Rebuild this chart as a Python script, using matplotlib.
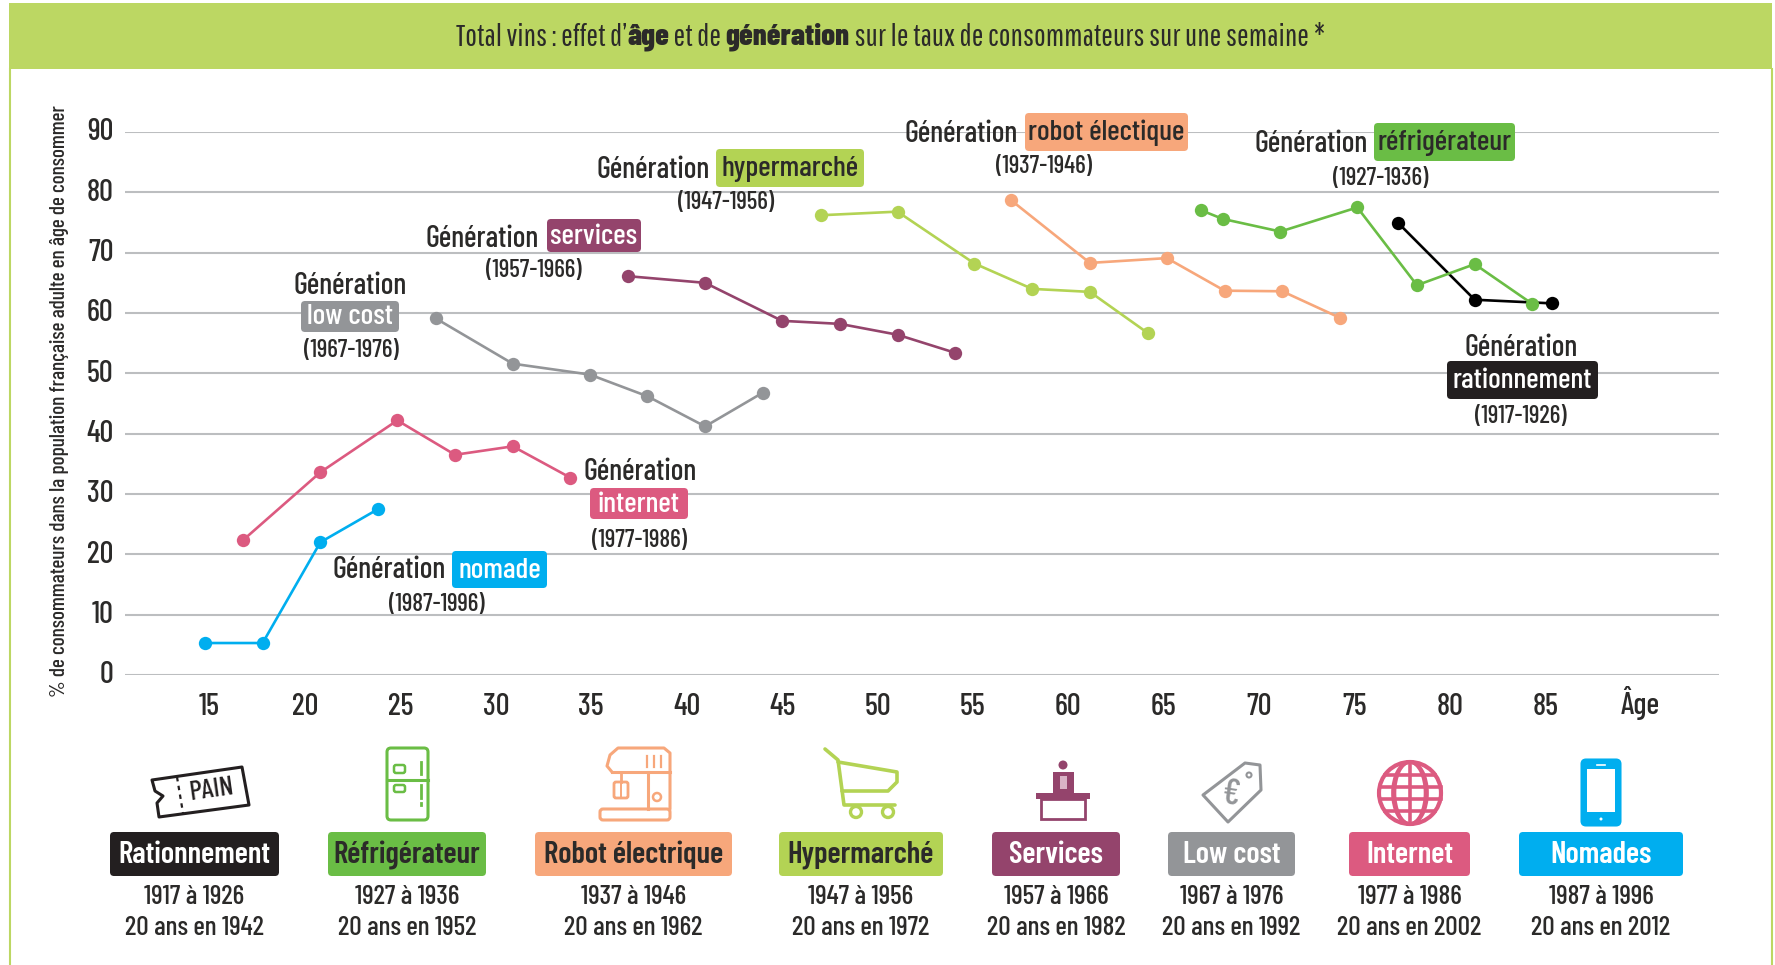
import matplotlib
matplotlib.use('Agg')
import matplotlib.pyplot as plt
from matplotlib import font_manager as fm
from matplotlib.patches import FancyBboxPatch, Circle, Ellipse, Polygon, Rectangle
from matplotlib.transforms import ScaledTranslation

# police etroite si elle existe, sinon on reduit les tailles
installed = {f.name for f in fm.fontManager.ttflist}
NARROW = 'Barlow Condensed' in installed
plt.rcParams['font.family'] = ['Barlow Condensed', 'Liberation Sans', 'DejaVu Sans'] if NARROW else ['Liberation Sans', 'DejaVu Sans']
plt.rcParams['font.weight'] = 500 if NARROW else 400
SIZE = 1.0 if NARROW else 0.72
TITLE_NARROW = 'Pathway Gothic One' in installed

LIGHT_GREEN = '#bcd763'
GREEN = '#6abd45'
ORANGE = '#f7a77b'
PINK = '#dc5a80'
BLUE = '#00aeef'
GREY = '#939598'
PLUM = '#94446c'
BLACK = '#231f20'
HYPER = '#b3d354'
TEXT = '#2b2a29'

# donnees
age_ticks = [15, 20, 25, 30, 35, 40, 45, 50, 55, 60, 65, 70, 75, 80, 85]
pct_ticks = [0, 10, 20, 30, 40, 50, 60, 70, 80, 90]

nomade_age = [15, 18, 21, 24]
nomade_val = [5.3, 5.3, 22.0, 27.5]
internet_age = [17, 21, 25, 28, 31, 34]
internet_val = [22.4, 33.6, 42.2, 36.5, 37.9, 32.7]
lowcost_age = [27, 31, 35, 38, 41, 44]
lowcost_val = [59.1, 51.6, 49.8, 46.2, 41.2, 46.8]
services_age = [37, 41, 45, 48, 51, 54]
services_val = [66.1, 65.0, 58.7, 58.2, 56.4, 53.4]
hyper_age = [47, 51, 55, 58, 61, 64]
hyper_val = [76.2, 76.8, 68.2, 64.0, 63.5, 56.7]
robot_age = [56.9, 61, 65, 68, 71, 74]
robot_val = [78.7, 68.3, 69.1, 63.7, 63.6, 59.2]
frigo_age = [66.8, 67.9, 70.9, 74.9, 78, 81, 84]
frigo_val = [77.0, 75.6, 73.5, 77.5, 64.6, 68.1, 61.5]
ration_age = [77, 81, 85]
ration_val = [75.0, 62.2, 61.6]

legend_names = ['Rationnement', 'Réfrigérateur', 'Robot électrique', 'Hypermarché',
                'Services', 'Low cost', 'Internet', 'Nomades']
legend_years = ['1917 à 1926', '1927 à 1936', '1937 à 1946', '1947 à 1956',
                '1957 à 1966', '1967 à 1976', '1977 à 1986', '1987 à 1996']
legend_twenty = ['20 ans en 1942', '20 ans en 1952', '20 ans en 1962', '20 ans en 1972',
                 '20 ans en 1982', '20 ans en 1992', '20 ans en 2002', '20 ans en 2012']
legend_colors = [BLACK, GREEN, ORANGE, HYPER, PLUM, GREY, PINK, BLUE]
legend_text_colors = ['white', TEXT, TEXT, TEXT, 'white', 'white', 'white', 'white']
legend_boxes = [(110, 279), (328, 486), (535, 732), (779, 943),
                (992, 1120), (1168, 1295), (1349, 1470), (1519, 1683)]


def pill(ax, x0, x1, y0, y1, color):
    ax.add_patch(FancyBboxPatch((x0 + 3, y0 + 3), x1 - x0 - 6, y1 - y0 - 6,
                                boxstyle='round,pad=3,rounding_size=4',
                                fc=color, ec='none', zorder=3))


def label_gen(ax, gx, gy, box, name, color, tcolor, period, px, py):
    ax.text(gx, gy + 2, 'Génération', ha='center', va='center', fontsize=21.6 * SIZE, color=TEXT, zorder=4)
    pill(ax, box[0], box[1], box[2], box[3], color)
    ax.text((box[0] + box[1]) / 2, (box[2] + box[3]) / 2 + 1, name, ha='center', va='center',
            fontsize=21.4 * SIZE, color=tcolor, zorder=4)
    ax.text(px, py + 1, period, ha='center', va='center', fontsize=18 * SIZE, color=TEXT, zorder=4)


def draw_title(fig, ax):
    runs = [('Total vins : effet d’', False), ('âge', True), (' et de ', False),
            ('génération', True), (' sur le taux de consommateurs sur une semaine *', False)]
    renderer = fig.canvas.get_renderer()
    x = 456
    for s, strong in runs:
        s = s.replace(' ', '\u00a0')
        if strong:
            t = ax.text(x, 37, s, ha='left', va='center', fontsize=22.2 * SIZE, fontweight=800,
                        color=TEXT, zorder=4)
        elif TITLE_NARROW:
            t = ax.text(x, 37, s, ha='left', va='center', fontsize=22.4, color=TEXT, zorder=4,
                        family=['Pathway Gothic One', 'DejaVu Sans'])
        else:
            t = ax.text(x, 37, s, ha='left', va='center', fontsize=20 * SIZE, color=TEXT, zorder=4)
        x = t.get_window_extent(renderer).x1


def stroke(ax, pts, color, lw=2.2, closed=False):
    ax.add_patch(Polygon(pts, closed=closed, fc='none', ec=color, lw=lw, joinstyle='round', capstyle='round'))


def round_box(ax, x0, y0, x1, y1, color, r=4, lw=2.2, fill='none'):
    ax.add_patch(FancyBboxPatch((x0 + r, y0 + r), x1 - x0 - 2 * r, y1 - y0 - 2 * r,
                                boxstyle=f'round,pad={r},rounding_size={r}', fc=fill, ec=color, lw=lw))


def draw_icons(ax):
    # ticket
    stroke(ax, [(152, 780), (242, 767), (249, 805), (159, 817), (157, 803), (163, 796), (155, 791)],
           BLACK, closed=True)
    ax.plot([177, 183], [777, 813], color=BLACK, lw=1.6, ls=(0, (2, 2)))
    ax.text(211, 790, 'PAIN', rotation=8, ha='center', va='center', fontsize=20 * SIZE, color=BLACK)

    # frigo
    round_box(ax, 387, 748, 428, 820, GREEN)
    ax.plot([387, 428], [780, 780], color=GREEN, lw=2.2)
    round_box(ax, 394, 765, 405, 773, GREEN, r=2, lw=1.8)
    round_box(ax, 394, 785, 405, 792, GREEN, r=2, lw=1.8)
    ax.plot([421, 421], [762, 774], color=GREEN, lw=2)
    ax.plot([421, 421], [785, 798], color=GREEN, lw=2)
    ax.plot([421, 421], [803, 805], color=GREEN, lw=2)

    # robot
    round_box(ax, 600, 809, 670, 820, ORANGE, r=3)
    stroke(ax, [(612, 772), (607, 766), (610, 755), (618, 748), (664, 748), (670, 753),
                (670, 809)], ORANGE)
    ax.plot([612, 670], [772, 772], color=ORANGE, lw=2.2)
    ax.plot([648, 648], [772, 809], color=ORANGE, lw=2.2)
    for x in [647, 654, 661]:
        ax.plot([x, x], [756, 767], color=ORANGE, lw=1.6)
    ax.plot([621, 621], [772, 782], color=ORANGE, lw=2)
    round_box(ax, 614, 782, 628, 798, ORANGE, r=2, lw=2)
    ax.plot([621, 621], [782, 798], color=ORANGE, lw=1.4)
    ax.add_patch(Circle((657, 797), 4, fc='none', ec=ORANGE, lw=1.8))

    # caddie
    stroke(ax, [(825, 749), (838, 760), (844, 805), (895, 805)], HYPER, lw=2.6)
    stroke(ax, [(838, 762), (897, 772), (897, 782), (888, 791), (842, 791)], HYPER, lw=2.6)
    ax.add_patch(Circle((856, 812), 5.5, fc='white', ec=HYPER, lw=2.4))
    ax.add_patch(Circle((888, 812), 5.5, fc='white', ec=HYPER, lw=2.4))

    # bureau
    ax.add_patch(Circle((1063, 765), 4.5, fc=PLUM, ec='none'))
    ax.add_patch(Rectangle((1053, 772), 21, 22, fc=PLUM, ec='none'))
    ax.add_patch(Rectangle((1060, 776), 7, 13, fc='#d9b3c6', ec='none'))
    ax.add_patch(Rectangle((1036, 793), 54, 6, fc=PLUM, ec='none'))
    ax.add_patch(Rectangle((1041, 799), 44, 20, fc='none', ec=PLUM, lw=2))

    # etiquette
    stroke(ax, [(1228, 822), (1203, 795), (1245, 763), (1260, 765), (1261, 790)], GREY, closed=True)
    ax.add_patch(Circle((1249, 775), 2.5, fc='none', ec=GREY, lw=1.5))
    ax.text(1230, 795, '€', rotation=-8, ha='center', va='center', fontsize=26 * SIZE, color=GREY)

    # globe
    cx, cy, r = 1410, 793, 31
    ax.add_patch(Circle((cx, cy), r, fc='white', ec=PINK, lw=3))
    for w in [r * 1.0, r * 2.0 * 0.55]:
        ax.add_patch(Ellipse((cx, cy), w, 2 * r, fc='none', ec=PINK, lw=2.6))
    ax.plot([cx, cx], [cy - r, cy + r], color=PINK, lw=2.6)
    for dy, half in [(-18, 25), (-6, 30.5), (6, 30.5), (18, 25)]:
        ax.plot([cx - half, cx + half], [cy + dy, cy + dy], color=PINK, lw=2.6)

    # telephone
    round_box(ax, 1582, 760, 1620, 825, BLUE, fill=BLUE)
    ax.add_patch(Rectangle((1587, 769), 28, 43, fc='white', ec='none'))
    ax.plot([1597, 1605], [764.5, 764.5], color='white', lw=1.2)
    ax.add_patch(Circle((1601, 819), 1.5, fc='white', ec='none'))


def main():
    fig = plt.figure(figsize=(17.75, 9.65), dpi=100, facecolor='white')

    # graphique principal, gradue par la librairie
    left, right, top, bottom = 124.5, 1719, 132, 675
    ax = fig.add_axes([left / 1775, 1 - bottom / 965, (right - left) / 1775, (bottom - top) / 965],
                      zorder=1)
    ax.patch.set_alpha(0)
    ax.set_ylim(0, 90)
    ax.set_xlim(10.82, 93.7)
    for s in ax.spines.values():
        s.set_visible(False)
    ax.set_yticks(pct_ticks)
    # les etiquettes de l'original ne tombent pas tout a fait sous les ages
    ax.set_xticks([15.24 + (a - 15) * 0.992 for a in age_ticks], labels=age_ticks)
    ax.tick_params(axis='both', length=0, labelsize=22 * SIZE, labelcolor=TEXT)
    ax.tick_params(axis='x', pad=12.9)
    ax.tick_params(axis='y', pad=8)
    up = ScaledTranslation(0, 2 / 72, fig.dpi_scale_trans)
    for lab in ax.get_yticklabels():
        lab.set_transform(lab.get_transform() + up)
    ax.grid(axis='y', color='#bcbec0', lw=1.5)
    ax.set_axisbelow(True)

    series = [(nomade_age, nomade_val, BLUE), (internet_age, internet_val, PINK),
              (lowcost_age, lowcost_val, GREY), (services_age, services_val, PLUM),
              (hyper_age, hyper_val, HYPER), (robot_age, robot_val, ORANGE),
              (ration_age, ration_val, 'black'), (frigo_age, frigo_val, GREEN)]
    for xs, ys, col in series:
        ax.plot(xs, ys, color=col, lw=1.9, marker='o', ms=9.6, mec='none', clip_on=False)

    # habillage en pixels
    deco = fig.add_axes([0, 0, 1, 1], zorder=2)
    deco.set_xlim(0, 1775)
    deco.set_ylim(965, 0)
    deco.axis('off')
    deco.patch.set_alpha(0)

    deco.add_patch(Rectangle((9, 3), 1763, 66, fc=LIGHT_GREEN, ec='none'))
    deco.plot([10, 10], [69, 965], color=LIGHT_GREEN, lw=1.5)
    deco.plot([1772, 1772], [69, 965], color=LIGHT_GREEN, lw=1.5)
    draw_title(fig, deco)

    deco.text(60, 401, '% de consommateurs dans la population française adulte en âge de consommer',
              rotation=90, ha='center', va='center', fontsize=15.3 * SIZE, color=TEXT)
    deco.text(1640, 703, 'Âge', ha='center', va='center', fontsize=22 * SIZE, color=TEXT)

    label_gen(deco, 653, 168, (716, 864, 149, 187), 'hypermarché', HYPER, TEXT, '(1947-1956)', 726, 202)
    label_gen(deco, 482, 237, (547, 641, 219, 252), 'services', PLUM, 'white', '(1957-1966)', 534, 270)
    label_gen(deco, 350, 284, (301, 399, 301, 332), 'low cost', GREY, 'white', '(1967-1976)', 351, 350)
    label_gen(deco, 961, 132, (1025, 1188, 113, 151), 'robot électique', ORANGE, TEXT, '(1937-1946)', 1044, 166)
    label_gen(deco, 1311, 142, (1374, 1515, 123, 161), 'réfrigérateur', GREEN, TEXT, '(1927-1936)', 1381, 178)
    label_gen(deco, 1521, 346, (1447, 1598, 361, 399), 'rationnement', BLACK, 'white', '(1917-1926)', 1521, 415)
    label_gen(deco, 640, 470, (590, 688, 488, 519), 'internet', PINK, 'white', '(1977-1986)', 640, 539)
    label_gen(deco, 389, 568, (452, 547, 551, 588), 'nomade', BLUE, 'white', '(1987-1996)', 437, 604)

    draw_icons(deco)

    for i, name in enumerate(legend_names):
        x0, x1 = legend_boxes[i]
        xc = (x0 + x1) / 2
        pill(deco, x0, x1, 832, 876, legend_colors[i])
        deco.text(xc, 855, name, ha='center', va='center', fontsize=22.2 * SIZE, fontweight=600,
                  color=legend_text_colors[i], zorder=4)
        deco.text(xc, 897, legend_years[i], ha='center', va='center', fontsize=19.7 * SIZE, color=TEXT)
        deco.text(xc, 928, legend_twenty[i], ha='center', va='center', fontsize=19.7 * SIZE, color=TEXT)

    fig.savefig('out.png', dpi=100)


if __name__ == "__main__":
    main()
